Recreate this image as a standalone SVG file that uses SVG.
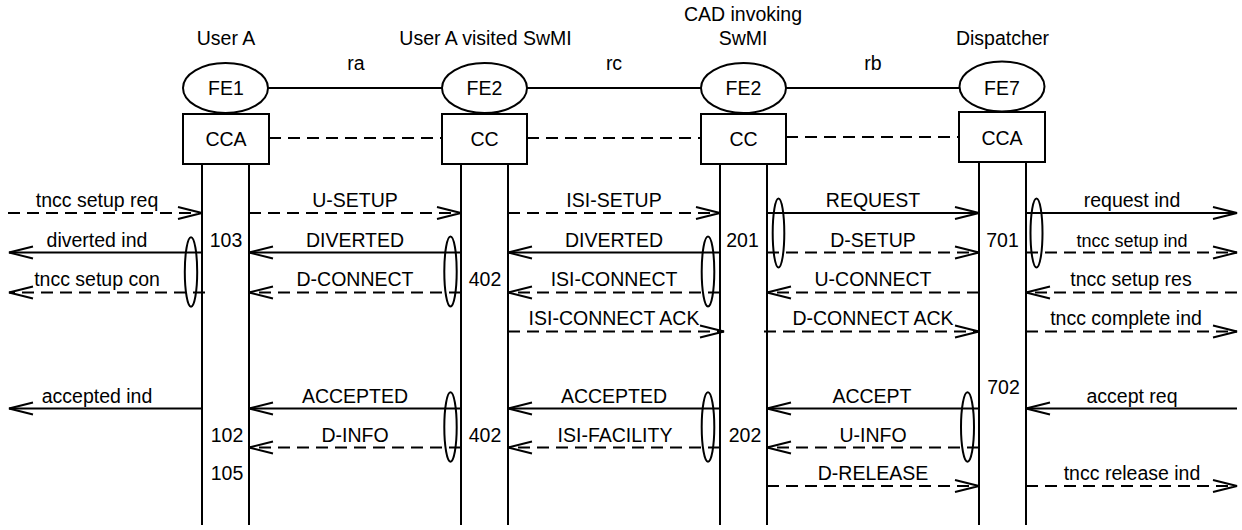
<svg xmlns="http://www.w3.org/2000/svg" width="1242" height="530" viewBox="0 0 1242 530">
<style>
text{font-family:"Liberation Sans",Arial,sans-serif;font-size:19.5px;fill:#000;text-anchor:middle}
.sm{font-size:18px}
.shape{fill:#fff;stroke:#000;stroke-width:2}
.life{stroke:#000;stroke-width:2;fill:none}
.s{stroke:#000;stroke-width:1.9;fill:none}
.d{stroke:#000;stroke-width:1.9;fill:none;stroke-dasharray:12 7}
.ov{fill:none;stroke:#000;stroke-width:2}
.arr{marker-end:url(#ah)}
</style>
<defs>
<marker id="ah" markerUnits="userSpaceOnUse" markerWidth="28" markerHeight="16" refX="24" refY="6.5" orient="auto" overflow="visible">
<path d="M0,0.5 L24,6.5 L0,12.5" fill="none" stroke="#000" stroke-width="1.9" stroke-dasharray="none"/>
</marker>
</defs>
<rect width="1242" height="530" fill="#fff"/>

<g id="connectors">
<line class="s" x1="268" y1="88" x2="442" y2="88"/>
<line class="s" x1="527" y1="88" x2="701" y2="88"/>
<line class="s" x1="786" y1="88" x2="960" y2="88"/>
<line class="d" x1="269" y1="138" x2="442" y2="138"/>
<line class="d" x1="527" y1="138" x2="701" y2="138"/>
<line class="d" x1="786" y1="137" x2="959" y2="137"/>
<text x="356" y="70">ra</text>
<text x="614" y="70">rc</text>
<text x="873" y="70">rb</text>

<!-- row 1 -->
<line class="d arr" x1="8" y1="213" x2="202" y2="213"/>
<line class="d arr" x1="249" y1="213" x2="461" y2="213"/>
<line class="d arr" x1="508" y1="213" x2="720" y2="213"/>
<line class="s arr" x1="767" y1="213" x2="979" y2="213"/>
<line class="s arr" x1="1026" y1="213" x2="1237" y2="213"/>
<text x="97" y="207">tncc setup req</text>
<text x="355" y="207">U-SETUP</text>
<text x="614" y="207">ISI-SETUP</text>
<text x="873" y="207">REQUEST</text>
<text x="1132" y="207">request ind</text>

<!-- row 2 -->
<line class="s arr" x1="202" y1="252.5" x2="9" y2="252.5"/>
<line class="s arr" x1="461" y1="252.5" x2="249" y2="252.5"/>
<line class="s arr" x1="720" y1="252.5" x2="508" y2="252.5"/>
<line class="d arr" x1="767" y1="252.5" x2="979" y2="252.5"/>
<line class="d arr" x1="1026" y1="252.5" x2="1237" y2="252.5"/>
<text x="97" y="246.5">diverted ind</text>
<text x="355" y="246.5">DIVERTED</text>
<text x="614" y="246.5">DIVERTED</text>
<text x="873" y="246.5">D-SETUP</text>
<text class="sm" x="1132" y="246.5">tncc setup ind</text>

<!-- row 3 -->
<line class="d arr" x1="205" y1="292.5" x2="9" y2="292.5"/>
<line class="d arr" x1="461" y1="292.5" x2="249" y2="292.5"/>
<line class="d arr" x1="720" y1="292.5" x2="508" y2="292.5"/>
<line class="d arr" x1="979" y1="292.5" x2="767" y2="292.5"/>
<line class="d arr" x1="1237" y1="292.5" x2="1026" y2="292.5"/>
<text x="97" y="286">tncc setup con</text>
<text x="355" y="286">D-CONNECT</text>
<text x="614" y="286">ISI-CONNECT</text>
<text x="873" y="286">U-CONNECT</text>
<text x="1131" y="286">tncc setup res</text>

<!-- row 4 -->
<line class="d arr" x1="508" y1="331.5" x2="724" y2="331.5"/>
<line class="d arr" x1="764" y1="331.5" x2="979" y2="331.5"/>
<line class="d arr" x1="1026" y1="331.5" x2="1237" y2="331.5"/>
<text x="614" y="324.5">ISI-CONNECT ACK</text>
<text x="873" y="324.5">D-CONNECT ACK</text>
<text x="1126" y="324.5">tncc complete ind</text>

<!-- row 5 -->
<line class="s arr" x1="202" y1="408.5" x2="9" y2="408.5"/>
<line class="s arr" x1="461" y1="408.5" x2="249" y2="408.5"/>
<line class="s arr" x1="720" y1="408.5" x2="508" y2="408.5"/>
<line class="s arr" x1="979" y1="408.5" x2="767" y2="408.5"/>
<line class="s arr" x1="1237" y1="408.5" x2="1026" y2="408.5"/>
<text x="97" y="402.5">accepted ind</text>
<text x="355" y="402.5">ACCEPTED</text>
<text x="614" y="402.5">ACCEPTED</text>
<text x="872" y="402.5">ACCEPT</text>
<text x="1132" y="402.5">accept req</text>

<!-- row 6 -->
<line class="d arr" x1="461" y1="447.5" x2="249" y2="447.5"/>
<line class="d arr" x1="720" y1="447.5" x2="508" y2="447.5"/>
<line class="d arr" x1="979" y1="447.5" x2="767" y2="447.5"/>
<text x="355" y="441.5">D-INFO</text>
<text x="615" y="441.5">ISI-FACILITY</text>
<text x="873" y="441.5">U-INFO</text>

<!-- row 7 -->
<line class="d arr" x1="767" y1="486" x2="979" y2="486"/>
<line class="d arr" x1="1026" y1="486" x2="1237" y2="486"/>
<text x="873" y="480">D-RELEASE</text>
<text x="1132" y="480">tncc release ind</text>

<!-- grouping ovals -->
<ellipse class="ov" cx="191" cy="272" rx="6.2" ry="34.7"/>
<ellipse class="ov" cx="450.5" cy="271.5" rx="6.2" ry="35"/>
<ellipse class="ov" cx="708" cy="271.5" rx="6.3" ry="35"/>
<ellipse class="ov" cx="778.5" cy="233" rx="5.8" ry="34.5"/>
<ellipse class="ov" cx="1036.5" cy="233" rx="6" ry="34.5"/>
<ellipse class="ov" cx="450.5" cy="427" rx="6.2" ry="34.7"/>
<ellipse class="ov" cx="708" cy="427" rx="6.3" ry="34.7"/>
<ellipse class="ov" cx="967.5" cy="427" rx="6.5" ry="34.7"/>
</g>

<g id="userA">
<text x="226" y="45">User A</text>
<ellipse class="shape" cx="225.5" cy="88" rx="42.5" ry="25"/>
<text x="226" y="95">FE1</text>
<rect class="shape" x="183" y="114" width="86" height="50"/>
<text x="226" y="145.5">CCA</text>
<line class="life" x1="202" y1="164" x2="202" y2="525"/>
<line class="life" x1="249" y1="164" x2="249" y2="525"/>
<text x="226" y="246.5">103</text>
<text x="227" y="441.5">102</text>
<text x="227" y="480">105</text>
</g>

<g id="visitedSwMI">
<text x="485.5" y="45">User A visited SwMI</text>
<ellipse class="shape" cx="484.5" cy="88" rx="42.5" ry="25"/>
<text x="484.5" y="95">FE2</text>
<rect class="shape" x="442" y="114" width="85" height="50"/>
<text x="484.5" y="145.5">CC</text>
<line class="life" x1="461" y1="164" x2="461" y2="525"/>
<line class="life" x1="508" y1="164" x2="508" y2="525"/>
<text x="485" y="286">402</text>
<text x="485" y="441.5">402</text>
</g>

<g id="cadSwMI">
<text x="743" y="21">CAD invoking</text>
<text x="743" y="45">SwMI</text>
<ellipse class="shape" cx="743.5" cy="88" rx="42.5" ry="25"/>
<text x="743.5" y="95">FE2</text>
<rect class="shape" x="701" y="114" width="85" height="50"/>
<text x="743.5" y="145.5">CC</text>
<line class="life" x1="720" y1="164" x2="720" y2="525"/>
<line class="life" x1="767" y1="164" x2="767" y2="525"/>
<text x="742.5" y="246.5">201</text>
<text x="745" y="441.5">202</text>
</g>

<g id="dispatcher">
<text x="1002.5" y="45">Dispatcher</text>
<ellipse class="shape" cx="1002" cy="86.5" rx="42.5" ry="25"/>
<text x="1002" y="95">FE7</text>
<rect class="shape" x="959" y="112" width="86" height="50"/>
<text x="1002" y="145">CCA</text>
<line class="life" x1="979" y1="162" x2="979" y2="525"/>
<line class="life" x1="1026" y1="162" x2="1026" y2="525"/>
<text x="1002.5" y="246.5">701</text>
<text x="1003.5" y="393.5">702</text>
</g>
</svg>
